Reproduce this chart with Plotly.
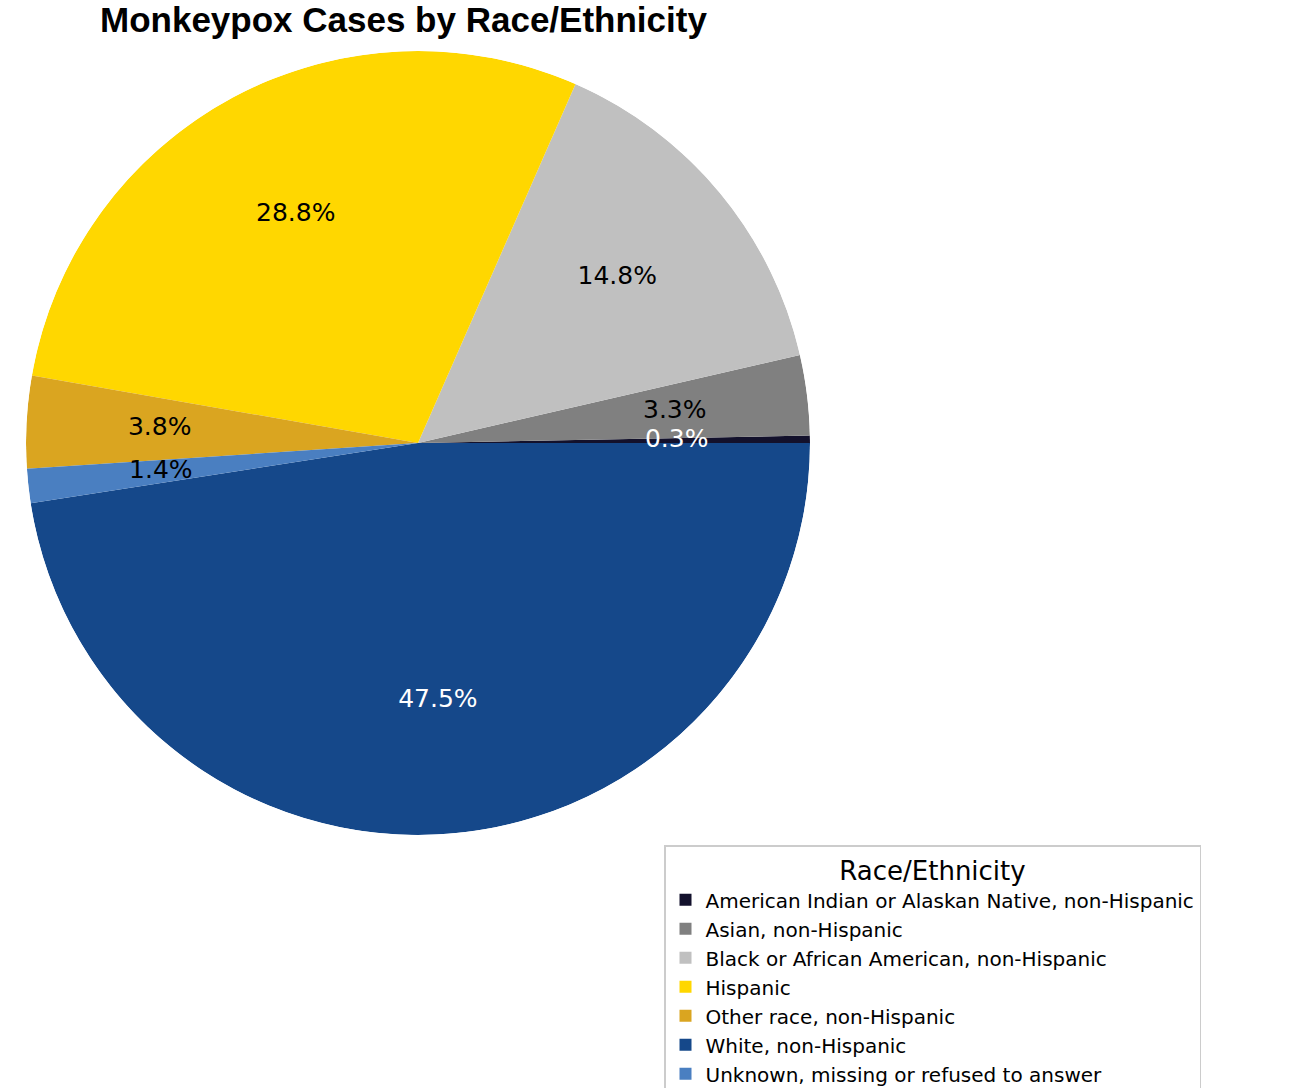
import plotly.graph_objects as go

# Slices in drawing order (counterclockwise from 3 o'clock)
categories = [
    "American Indian or Alaskan Native, non-Hispanic",
    "Asian, non-Hispanic",
    "Black or African American, non-Hispanic",
    "Hispanic",
    "Other race, non-Hispanic",
    "Unknown, missing or refused to answer",
    "White, non-Hispanic",
]
percents = [0.3, 3.3, 14.8, 28.8, 3.8, 1.4, 47.5]
colors = ["#13112c", "#808080", "#c0c0c0", "#ffd700", "#daa520", "#4a7fc1", "#15488a"]
label_colors = ["white", "black", "black", "black", "black", "black", "white"]

legend_order = [
    "American Indian or Alaskan Native, non-Hispanic",
    "Asian, non-Hispanic",
    "Black or African American, non-Hispanic",
    "Hispanic",
    "Other race, non-Hispanic",
    "White, non-Hispanic",
    "Unknown, missing or refused to answer",
]

total = sum(percents)
starts = []
acc = 0.0
for v in percents:
    starts.append(acc)
    acc += v
mids = [(s + v / 2) / total * 360 for s, v in zip(starts, percents)]
widths = [v / total * 360 for v in percents]

fig = go.Figure()
for name in legend_order:
    i = categories.index(name)
    fig.add_trace(go.Barpolar(
        r=[1], theta=[mids[i]], width=[widths[i]], base=[0],
        name=name, marker=dict(color=colors[i], line=dict(width=0)),
        showlegend=True, hoverinfo="name",
    ))

fig.add_trace(go.Scatterpolar(
    r=[0.66] * len(percents), theta=mids, mode="text",
    text=[f"{v:.1f}%" for v in percents],
    textfont=dict(family="DejaVu Sans", size=25, color=label_colors),
    textposition="middle center", showlegend=False, hoverinfo="skip",
))

W, H = 1291, 1088
fig.update_layout(
    width=W, height=H,
    margin=dict(l=0, r=0, t=0, b=0, autoexpand=False),
    paper_bgcolor="white",
    title=dict(
        text="<b>Monkeypox Cases by Race/Ethnicity</b>",
        font=dict(family="Liberation Sans", size=35, color="black"),
        x=100 / W, xanchor="left", xref="container",
        y=1 - 20 / H, yanchor="middle", yref="container",
    ),
    polar=dict(
        domain=dict(x=[26 / W, 810 / W], y=[1 - 835 / H, 1 - 51 / H]),
        bgcolor="rgba(0,0,0,0)",
        bargap=0,
        radialaxis=dict(visible=False, range=[0, 1]),
        angularaxis=dict(visible=False, rotation=0, direction="counterclockwise"),
    ),
    legend=dict(
        title=dict(text="Race/Ethnicity", side="top center",
                   font=dict(family="DejaVu Sans", size=26, color="black")),
        font=dict(family="DejaVu Sans", size=20, color="black"),
        x=664 / W, xanchor="left", y=1 - 845 / H, yanchor="top",
        bgcolor="white", bordercolor="#cccccc", borderwidth=1.5,
        tracegroupgap=0, itemwidth=30,
    ),
)

fig.write_html(
    "out.html",
    config={"displayModeBar": False},
    post_script="document.body.style.margin='0';document.body.style.padding='0';",
)
